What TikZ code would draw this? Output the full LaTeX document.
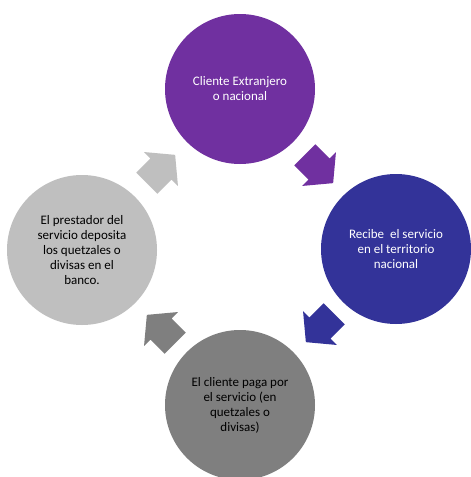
\documentclass[tikz,border=0pt]{standalone}
\usepackage{fontspec}
\setmainfont{Carlito}
\definecolor{cpurple}{HTML}{7030A0}
\definecolor{cblue}{HTML}{333399}
\definecolor{cdgray}{HTML}{7F7F7F}
\definecolor{clgray}{HTML}{BFBFBF}
\tikzset{
  stage/.style={circle, minimum size=150pt, inner sep=0pt, align=center,
    font=\fontsize{13}{15}\selectfont},
  blockarrow/.pic={\fill[pic actions] (-20,-15) -- (0,-15) -- (0,-24) -- (20,0) -- (0,24) -- (0,15) -- (-20,15) -- cycle;}
}
\begin{document}
\begin{tikzpicture}[x=1pt,y=-1pt]
\clip (0,0) rectangle (471,477);
\fill[white] (0,0) rectangle (471,477);
\node[stage, fill=cpurple, text=white] (top) at (240,89) {Cliente Extranjero\\o nacional};
\node[stage, fill=cblue, text=white] (right) at (396,249) {Recibe\ \ el servicio\\en el territorio\\nacional};
\node[stage, fill=cdgray, text=black] (bottom) at (240,405) {El cliente paga por\\el servicio (en\\quetzales o\\divisas)};
\node[stage, fill=clgray, text=black] (left) at (82,250) {El prestador del\\servicio deposita\\los quetzales o\\divisas en el\\banco.};
\pic[fill=cpurple] at (319,169) [rotate=-45] {blockarrow};
\pic[fill=cblue] at (320,328) [rotate=-135] {blockarrow};
\pic[fill=cdgray] at (161,329) [rotate=135] {blockarrow};
\pic[fill=clgray] at (161,169) [rotate=45] {blockarrow};
\end{tikzpicture}
\end{document}
